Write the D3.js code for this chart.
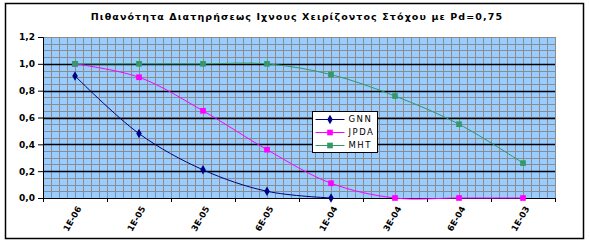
<!DOCTYPE html>
<html>
<head>
<meta charset="utf-8">
<script src="https://cdn.jsdelivr.net/npm/d3@7"></script>
<style>
body{margin:0;background:#fff;}
text{font-family:"DejaVu Sans",Verdana,sans-serif;}
</style>
</head>
<body>
<svg width="590" height="243"></svg>
<script>
const categories=['1E-06','1E-05','3E-05','6E-05','1E-04','3E-04','6E-04','1E-03'];
const gnn=[0.91,0.48,0.21,0.05,0.0];
const jpda=[1.0,0.9,0.65,0.36,0.11,0.0,0.0,0.0];
const mht=[1.0,1.0,1.0,1.0,0.92,0.76,0.55,0.26];
const yTicks=[0,0.2,0.4,0.6,0.8,1.0,1.2];

const svg=d3.select('svg');
const margin={top:37,left:43,right:35,bottom:45};
const width=+svg.attr('width'), height=+svg.attr('height');
const innerW=width-margin.left-margin.right;
const innerH=height-margin.top-margin.bottom;

// outer frame
svg.append('rect').attr('x',5.5).attr('y',3.5).attr('width',578).attr('height',235)
   .attr('fill','#fff').attr('stroke','#000').attr('stroke-width',1.5);

svg.append('text').attr('x',297).attr('y',20).attr('text-anchor','middle')
   .style('font-size','9.5px').style('font-weight','bold').style('letter-spacing','1.1px')
   .text('Πιθανότητα Διατηρήσεως Ιχνους Χειρίζοντος Στόχου με Pd=0,75');

const g=svg.append('g').attr('transform',`translate(${margin.left},${margin.top})`);

const x=d3.scaleBand().domain(categories).range([0,innerW]);
const y=d3.scaleLinear().domain([0,1.2]).range([innerH,0]);
const xg=d3.scaleLinear().domain([0,categories.length]).range([0,innerW]);

g.append('rect').attr('width',innerW).attr('height',innerH).attr('fill','#99ccff');

// minor grid
g.append('g').selectAll('line').data(d3.range(0,1.2001,0.05))
  .join('line').attr('x1',0).attr('x2',innerW).attr('y1',d=>Math.round(y(d))+0.5).attr('y2',d=>Math.round(y(d))+0.5)
  .attr('stroke','#8c8c8c').attr('stroke-width',1);
g.append('g').selectAll('line').data(d3.range(0,categories.length+0.001,0.125))
  .join('line').attr('y1',0).attr('y2',innerH).attr('x1',d=>Math.round(xg(d))+0.5).attr('x2',d=>Math.round(xg(d))+0.5)
  .attr('stroke','#8c8c8c').attr('stroke-width',1);
// major grid
g.append('g').selectAll('line').data(yTicks.slice(1,-1))
  .join('line').attr('x1',0).attr('x2',innerW).attr('y1',d=>Math.round(y(d))+0.5).attr('y2',d=>Math.round(y(d))+0.5)
  .attr('stroke','#000').attr('stroke-width',1.3);

// axes
const yAxis=g.append('g').call(d3.axisLeft(y).tickValues(yTicks).tickSize(5).tickFormat(d=>d3.format('.1f')(d).replace('.',',')));
yAxis.select('.domain').attr('stroke','#000');
yAxis.selectAll('text').style('font-size','9px').style('font-weight','bold').attr('x',-8);

const xAxis=g.append('g').attr('transform',`translate(0,${innerH})`)
  .call(d3.axisBottom(xg).tickValues(d3.range(0,categories.length+1)).tickSize(4).tickFormat(''));
xAxis.select('.domain').attr('stroke','#000');
g.append('g').selectAll('text').data(categories).join('text')
  .attr('transform',d=>`translate(${x(d)+x.bandwidth()/2+4},${innerH+9}) rotate(-60)`)
  .attr('text-anchor','end').attr('dy','0.35em')
  .style('font-size','8.5px').style('font-weight','bold').text(d=>d);

const series=[
  {name:'GNN',values:gnn,color:'#000080',shape:'diamond'},
  {name:'JPDA',values:jpda,color:'#ff00ff',shape:'square'},
  {name:'MHT',values:mht,color:'#339966',shape:'square'}
];
const cx=i=>x(categories[i])+x.bandwidth()/2;
const line=d3.line().x((d,i)=>cx(i)).y(d=>y(d)).curve(d3.curveCatmullRom);

series.forEach(s=>{
  g.append('path').datum(s.values).attr('d',line).attr('fill','none')
   .attr('stroke',s.color).attr('stroke-width',1);
  const sym=s.shape==='diamond'?d3.symbolDiamond:d3.symbolSquare;
  g.append('g').selectAll('path').data(s.values).join('path')
   .attr('transform',(d,i)=>`translate(${cx(i)},${y(d)})`)
   .attr('d',d3.symbol().type(sym).size(s.shape==='diamond'?26:32))
   .attr('fill',s.color);
});

// legend
const lg=svg.append('g').attr('transform','translate(312.5,111.5)');
lg.append('rect').attr('width',65).attr('height',41).attr('fill','#fff').attr('stroke','#000');
series.forEach((s,i)=>{
  const yy=8+i*13;
  lg.append('line').attr('x1',3).attr('x2',32).attr('y1',yy).attr('y2',yy).attr('stroke',s.color).attr('stroke-width',1);
  lg.append('path').attr('transform',`translate(17.5,${yy})`)
    .attr('d',d3.symbol().type(s.shape==='diamond'?d3.symbolDiamond:d3.symbolSquare).size(s.shape==='diamond'?26:32))
    .attr('fill',s.color);
  lg.append('text').attr('x',36).attr('y',yy).attr('dy','0.35em')
    .style('font-size','8.5px').style('letter-spacing','1.5px').text(s.name);
});
</script>
</body>
</html>
